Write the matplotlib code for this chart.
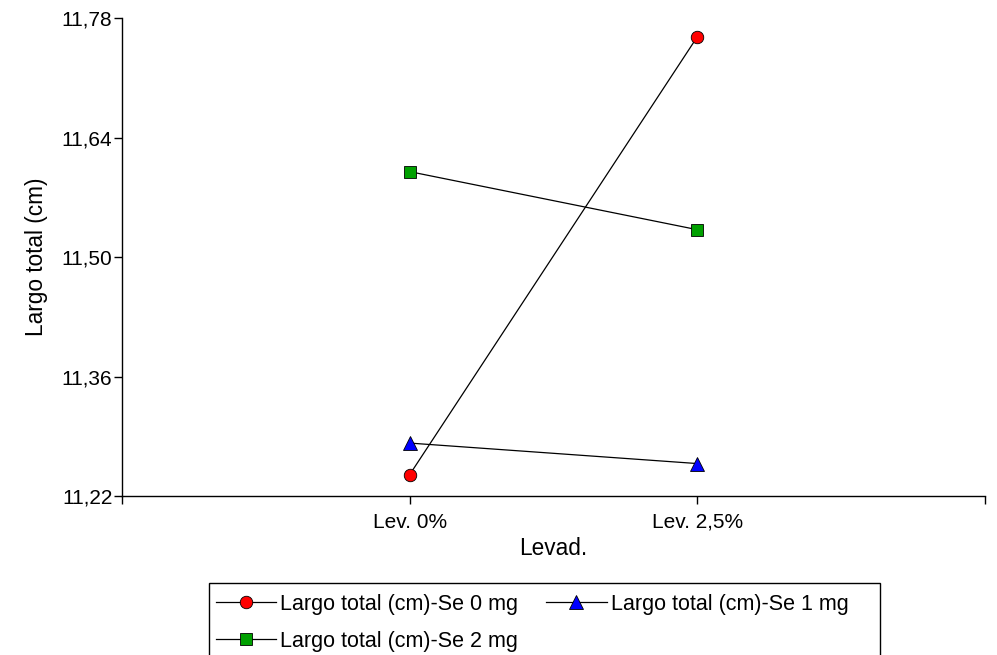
import matplotlib
matplotlib.use("Agg")
import matplotlib.pyplot as plt
from matplotlib.patches import Rectangle

categories = ["Lev. 0%", "Lev. 2,5%"]
se0 = [11.245, 11.758]
se1 = [11.282, 11.258]
se2 = [11.600, 11.532]
series_labels = ["Largo total (cm)-Se 0 mg", "Largo total (cm)-Se 1 mg", "Largo total (cm)-Se 2 mg"]
yticks = [11.22, 11.36, 11.50, 11.64, 11.78]
ytick_labels = ["11,22", "11,36", "11,50", "11,64", "11,78"]

plt.rcParams['font.family'] = ['Liberation Sans', 'DejaVu Sans']

fig = plt.figure(figsize=(9.97, 6.55), dpi=100)
W, H = 997, 655
ax = fig.add_axes([122 / W, 1 - 496 / H, (985 - 122) / W, (496 - 18) / H])

x = [1, 2]
l0, = ax.plot(x, se0, color='black', lw=0.9, marker='o', markersize=9,
              markerfacecolor='#ff0000', markeredgecolor='black', markeredgewidth=0.6, label=series_labels[0])
l1, = ax.plot(x, se1, color='black', lw=0.9, marker='^', markersize=10,
              markerfacecolor='#0000ff', markeredgecolor='black', markeredgewidth=0.6, label=series_labels[1])
l2, = ax.plot(x, se2, color='black', lw=0.9, marker='s', markersize=8.5,
              markerfacecolor='#00a000', markeredgecolor='black', markeredgewidth=0.6, label=series_labels[2])

ax.set_xlim(0, 3)
ax.set_ylim(yticks[0], yticks[-1])
ax.set_yticks(yticks)
ax.set_yticklabels(ytick_labels)
ax.set_xticks([0, 1, 2, 3])
ax.set_xticklabels(["", categories[0], categories[1], ""])

for s in ['top', 'right']:
    ax.spines[s].set_visible(False)
for s in ['left', 'bottom']:
    ax.spines[s].set_linewidth(1.0)
ax.tick_params(axis='both', direction='out', length=6, width=1.0, labelsize=15, colors='black')
ax.tick_params(axis='x', pad=6)
ax.tick_params(axis='y', pad=1)

ax.set_xlabel("Levad.", fontsize=16.3, labelpad=4)
ax.set_ylabel("Largo total (cm)", fontsize=16.3, labelpad=10)

leg = fig.legend([l0, l2, l1], [series_labels[0], series_labels[2], series_labels[1]],
                 loc='upper left', bbox_to_anchor=(205 / W, 1 - 583 / H), ncol=2,
                 fontsize=15.5, frameon=False,
                 handlelength=2.8, handletextpad=0.2, columnspacing=1.3,
                 borderaxespad=0, borderpad=0.5, labelspacing=0.75)

frame = Rectangle((209 / W, -0.05), (880 - 209) / W, (655 - 583) / H + 0.05,
                  transform=fig.transFigure, facecolor='none', edgecolor='black',
                  linewidth=1.0, clip_on=False)
fig.add_artist(frame)

fig.savefig("out.png", dpi=100)
